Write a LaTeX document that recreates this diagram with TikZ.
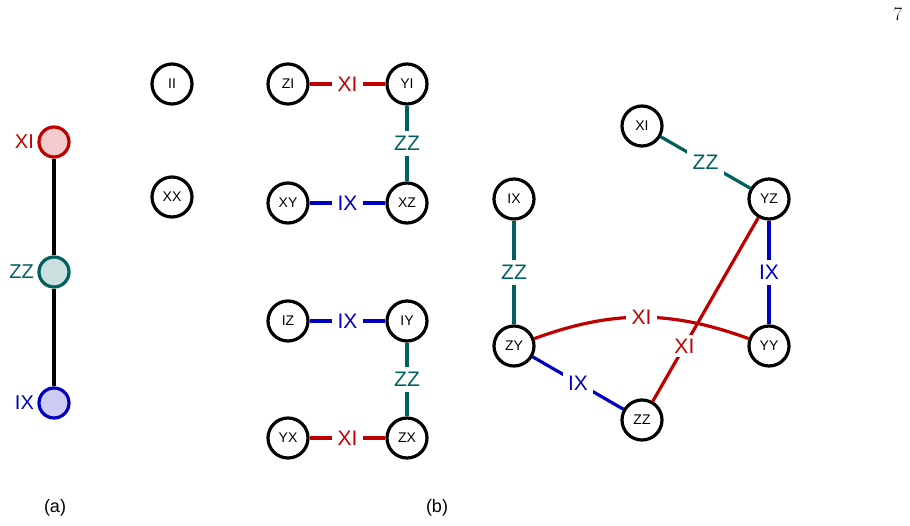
\documentclass[tikz,border=0pt]{standalone}
\usepackage{fontspec}
\setmainfont{Liberation Sans}
\newfontfamily\pagefont{Latin Modern Roman}
\usetikzlibrary{positioning}
\definecolor{xired}{RGB}{192,0,0}
\definecolor{zzteal}{RGB}{0,96,96}
\definecolor{ixblue}{RGB}{0,0,192}

\begin{document}
\begin{tikzpicture}[
    x=1pt, y=1pt,
    vtx/.style={draw, circle, line width=3.2pt, minimum size=40pt, inner sep=0pt, font=\fontsize{14}{16}\selectfont},
    dot/.style={draw, circle, line width=3.2pt, minimum size=30pt, inner sep=0pt},
    lbl/.style={fill=white, inner sep=5.5pt, font=\fontsize{21}{23}\selectfont},
    xi/.style={draw=xired, line width=3.2pt},
    zz/.style={draw=zzteal, line width=3.2pt},
    ix/.style={draw=ixblue, line width=3.2pt}
]
\useasboundingbox (0,0) rectangle (910,-525);
\node[font=\pagefont\fontsize{19}{21}\selectfont] (page) at (898,-14) {7};

% (a)
\node[dot, draw=xired, fill=xired!20] (aXI) at (54,-142) {};
\node[dot, draw=zzteal, fill=zzteal!20] (aZZ) at (54,-272) {};
\node[dot, draw=ixblue, fill=ixblue!20] (aIX) at (54,-403) {};
\node[left=0pt of aXI, text=xired, font=\fontsize{20}{22}\selectfont] {XI};
\node[left=0pt of aZZ, text=zzteal, font=\fontsize{20}{22}\selectfont] {ZZ};
\node[left=0pt of aIX, text=ixblue, font=\fontsize{20}{22}\selectfont] {IX};
\draw[line width=3.2pt] (aXI) -- (aZZ);
\draw[line width=3.2pt] (aZZ) -- (aIX);
\node[font=\fontsize{18}{20}\selectfont] (capa) at (55,-508) {(a)};

% (b) left part
\node[vtx] (II) at (172,-84) {II};
\node[vtx] (XX) at (172,-197) {XX};

\node[vtx] (ZI) at (288,-84) {ZI};
\node[vtx] (YI) at (407,-84) {YI};
\node[vtx] (XY) at (288,-203) {XY};
\node[vtx] (XZ) at (407,-203) {XZ};
\draw[xi] (ZI) -- node[lbl, text=xired] {XI} (YI);
\draw[zz] (YI) -- node[lbl, text=zzteal] {ZZ} (XZ);
\draw[ix] (XY) -- node[lbl, text=ixblue] {IX} (XZ);

\node[vtx] (IZ) at (288,-321) {IZ};
\node[vtx] (IY) at (407,-321) {IY};
\node[vtx] (YX) at (288,-438) {YX};
\node[vtx] (ZX) at (407,-438) {ZX};
\draw[ix] (IZ) -- node[lbl, text=ixblue] {IX} (IY);
\draw[zz] (IY) -- node[lbl, text=zzteal] {ZZ} (ZX);
\draw[xi] (YX) -- node[lbl, text=xired] {XI} (ZX);

% (b) right part
\node[vtx] (XI) at (642,-126) {XI};
\node[vtx] (YZ) at (769,-199) {YZ};
\node[vtx] (IX) at (514,-199) {IX};
\node[vtx] (ZY) at (514,-346) {ZY};
\node[vtx] (YY) at (769,-346) {YY};
\node[vtx] (ZZ) at (642,-420) {ZZ};
\draw[zz] (XI) -- node[lbl, text=zzteal] {ZZ} (YZ);
\draw[ix] (YZ) -- node[lbl, text=ixblue] {IX} (YY);
\draw[zz] (IX) -- node[lbl, text=zzteal] {ZZ} (ZY);
\draw[xi] (ZY) to[bend left=20] node[lbl, text=xired] {XI} (YY);
\draw[xi] (YZ) -- node[lbl, text=xired, pos=0.7, inner sep=4pt] {XI} (ZZ);
\draw[ix] (ZY) -- node[lbl, text=ixblue] {IX} (ZZ);
\node[font=\fontsize{18}{20}\selectfont] (capb) at (437,-508) {(b)};
\end{tikzpicture}
\end{document}
